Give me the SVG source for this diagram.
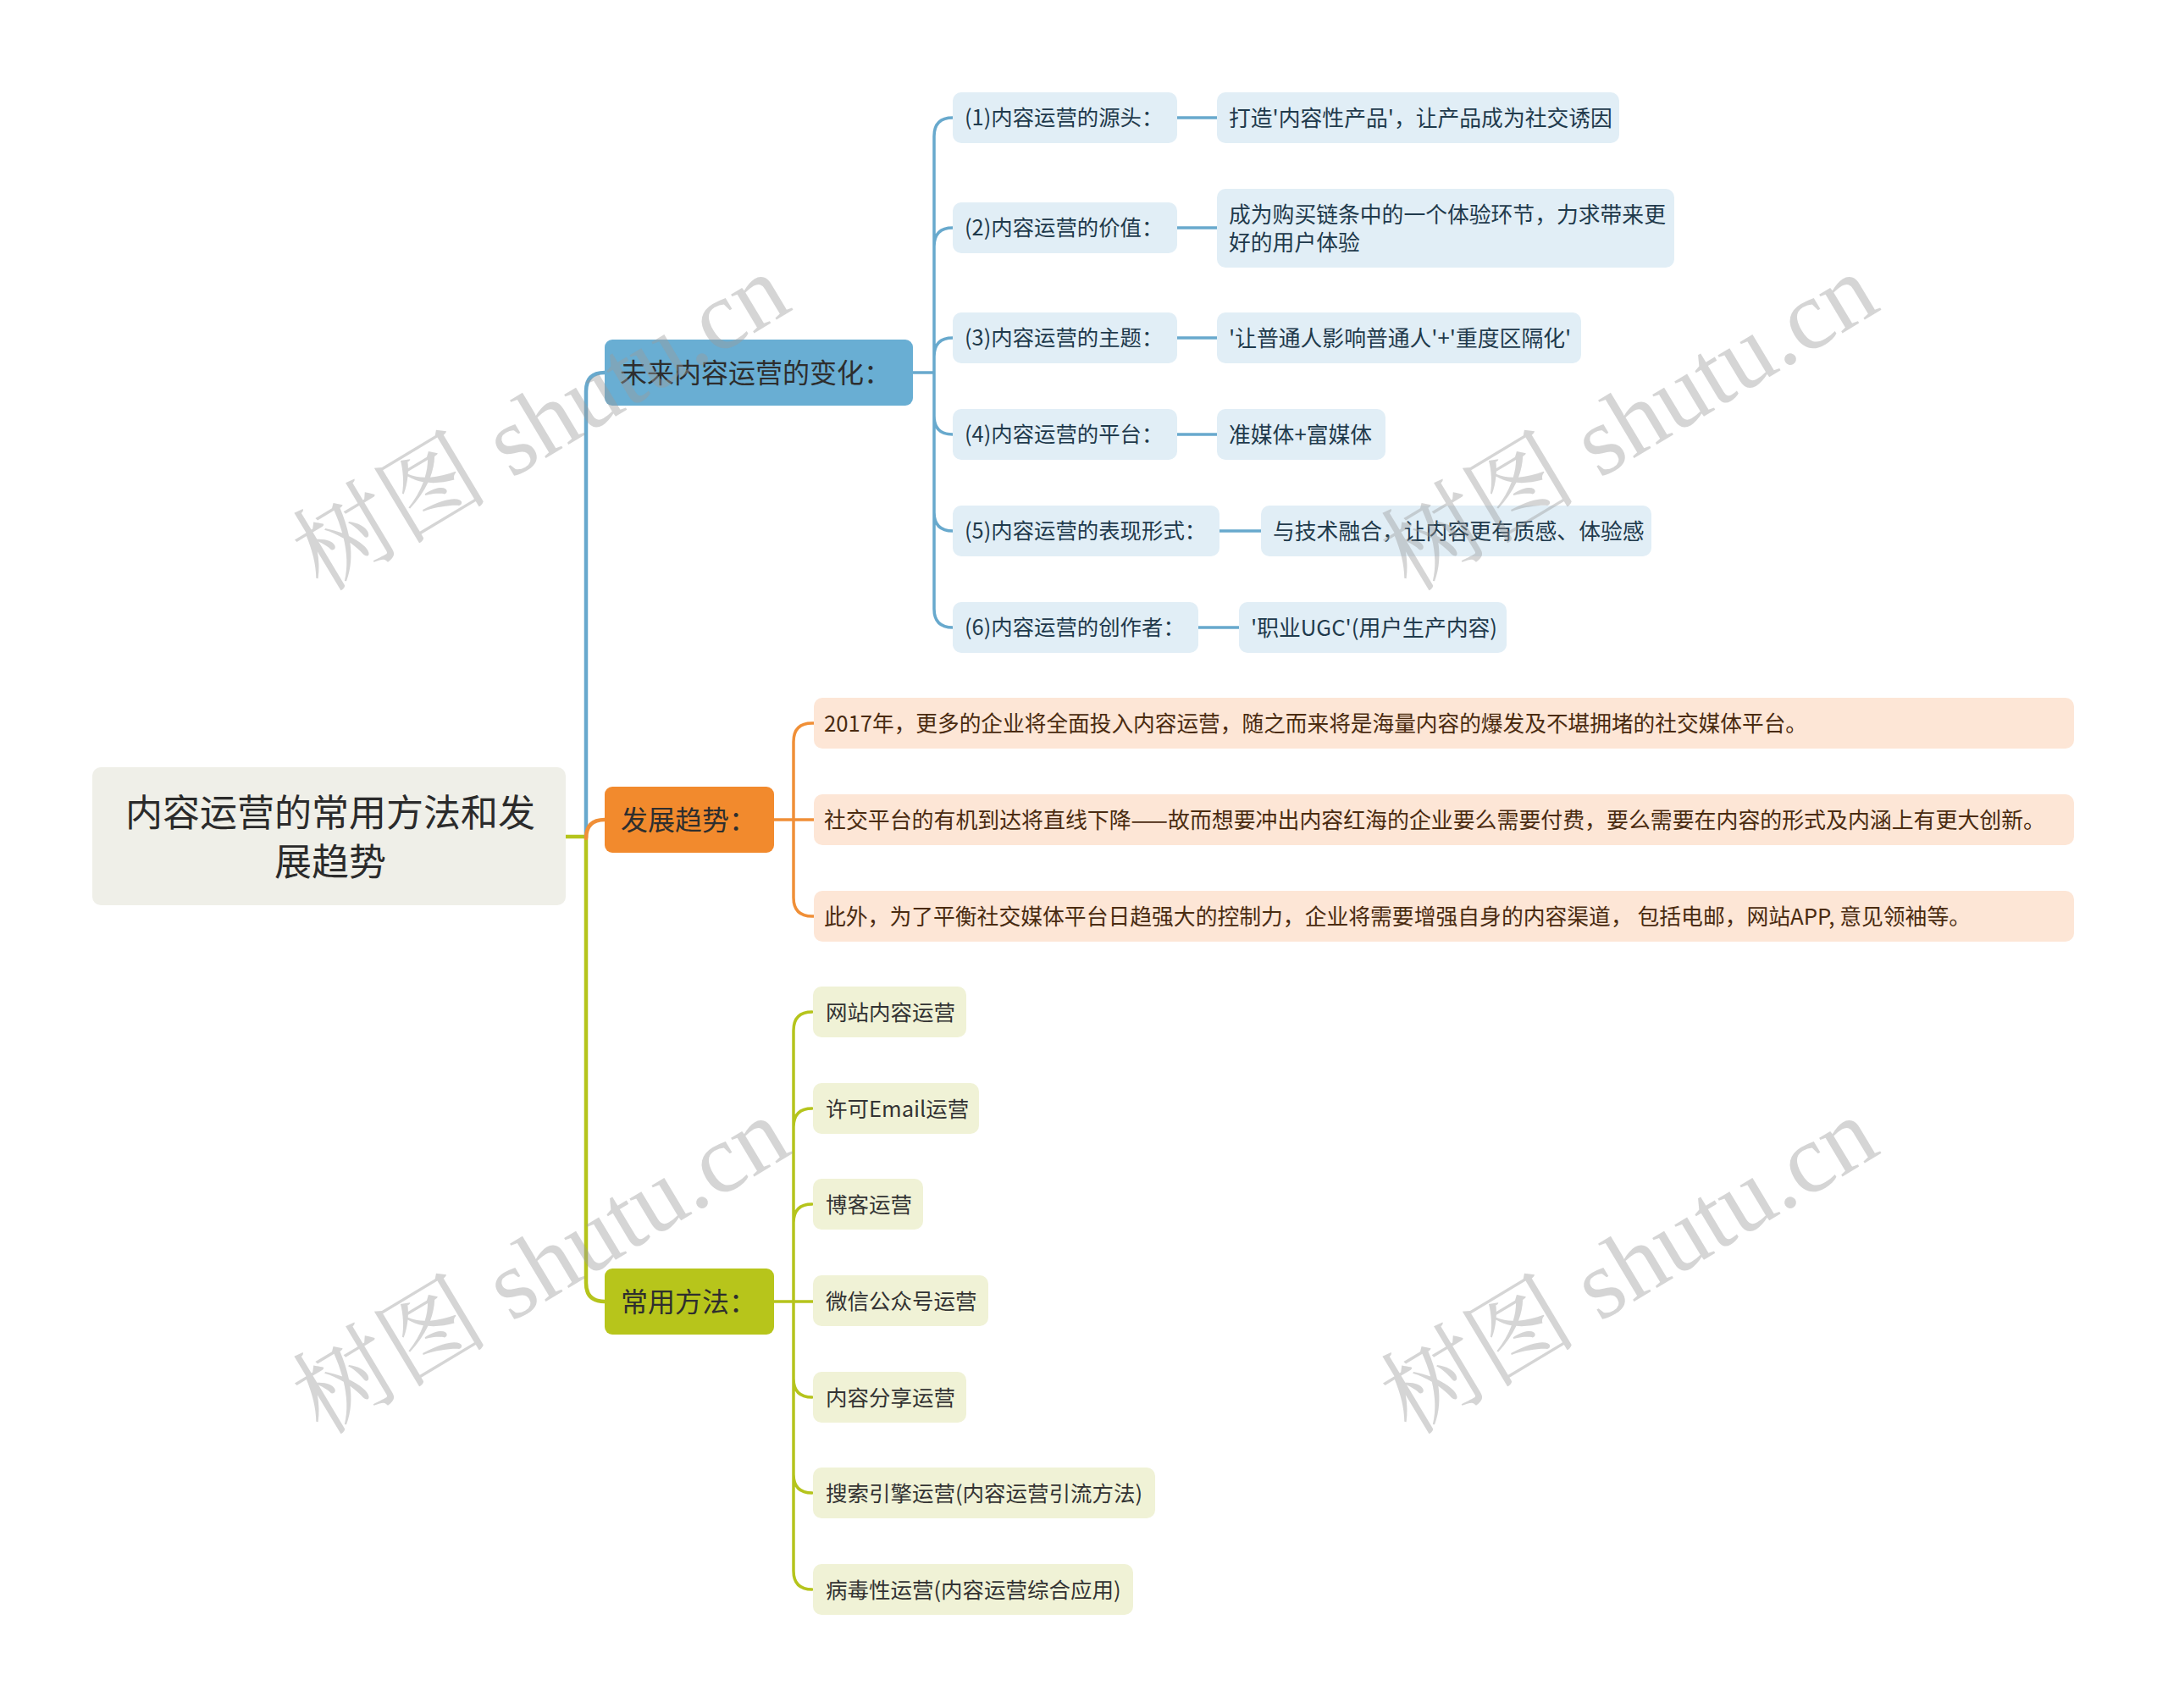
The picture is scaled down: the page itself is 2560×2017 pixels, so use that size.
<svg xmlns="http://www.w3.org/2000/svg" width="2560" height="2017" viewBox="0 0 2560 2017">
<style>
text{font-family:"Noto Sans CJK SC","Noto Sans",sans-serif;dominant-baseline:central}
.root rect{fill:#efefe8}
.root text{font-size:44px;fill:#2b2b2b;text-anchor:middle}
.br text{font-size:32px;fill:#2e2e2e}
.b1 rect{fill:#69aed3}
.b2 rect{fill:#f28a2d}
.b3 rect{fill:#b7c51b}
.lb rect{fill:#e1eef6}
.lb text{font-size:25.4px;fill:#1f3a4c}
.lb text.v{font-size:25.8px}
.lo rect{fill:#fde6d6}
.lo text{font-size:26px;fill:#4a2b10}
.lg rect{fill:#f0f2d6}
.lg text{font-size:25.5px;fill:#333}
.c{fill:none;stroke-linecap:round;stroke-linejoin:round}
.cb{stroke:#68a9cd}
.co{stroke:#f08f37}
.cg{stroke:#b5c41c}
.wm{font-family:"Liberation Serif","Noto Serif CJK SC",serif;font-size:116px;fill:#9a9a9a;fill-opacity:0.42;dominant-baseline:alphabetic}
</style>
<g id="connectors">
<path class="c cg" stroke-width="4.5" d="M668,988 H692 V1515 Q692,1537 714,1537"/>
<path class="c cb" stroke-width="4.5" d="M692,988 V462 Q692,440 714,440"/>
<path class="c co" stroke-width="4.5" d="M692,990 Q692,968 714,968"/>
<path class="c cb" stroke-width="3.5" d="M1078,440 H1103 M1103,440 V161 Q1103,139 1125,139 M1103,440 V291 Q1103,269 1125,269 M1103,440 V421 Q1103,399 1125,399 M1103,440 V491 Q1103,513 1125,513 M1103,440 V605 Q1103,627 1125,627 M1103,440 V719 Q1103,741 1125,741"/>
<path class="c cb" stroke-width="3.5" d="M1390,139 H1437 M1390,269 H1437 M1390,399 H1437 M1390,513 H1437 M1440,627 H1489 M1415,741 H1463"/>
<path class="c co" stroke-width="3.5" d="M913,968 H961 M937,968 V876 Q937,854 959,854 H961 M937,968 V1060 Q937,1082 959,1082 H961"/>
<path class="c cg" stroke-width="3.5" d="M914,1537 H960 M937,1537 V1217 Q937,1195 959,1195 M937,1537 V1331 Q937,1309 959,1309 M937,1537 V1444 Q937,1422 959,1422 M937,1537 V1628 Q937,1650 959,1650 M937,1537 V1741 Q937,1763 959,1763 M937,1537 V1855 Q937,1877 959,1877"/>
</g>
<g id="root" class="root">
<rect x="109" y="906" width="559" height="163" rx="10"/>
<text x="390" y="957">内容运营的常用方法和发</text>
<text x="390" y="1015">展趋势</text>
</g>
<g id="branch-future" class="br b1">
<rect x="714" y="401" width="364" height="78" rx="9"/>
<text x="732" y="438">未来内容运营的变化：</text>
</g>
<g id="branch-trend" class="br b2">
<rect x="714" y="929" width="200" height="78" rx="9"/>
<text x="733" y="966">发展趋势：</text>
</g>
<g id="branch-method" class="br b3">
<rect x="714" y="1498" width="200" height="78" rx="9"/>
<text x="733" y="1535">常用方法：</text>
</g>
<g id="f1" class="lb"><rect x="1125" y="109" width="265" height="60" rx="10"/><text x="1139" y="137">(1)内容运营的源头：</text></g>
<g id="f1a" class="lb"><rect x="1437" y="109" width="475" height="60" rx="10"/><text class="v" x="1451" y="137">打造'内容性产品'，让产品成为社交诱因</text></g>
<g id="f2" class="lb"><rect x="1125" y="239" width="265" height="60" rx="10"/><text x="1139" y="267">(2)内容运营的价值：</text></g>
<g id="f2a" class="lb"><rect x="1437" y="223" width="540" height="93" rx="10"/><text class="v" x="1451" y="251">成为购买链条中的一个体验环节，力求带来更</text><text class="v" x="1451" y="284">好的用户体验</text></g>
<g id="f3" class="lb"><rect x="1125" y="369" width="265" height="60" rx="10"/><text x="1139" y="397">(3)内容运营的主题：</text></g>
<g id="f3a" class="lb"><rect x="1437" y="369" width="430" height="60" rx="10"/><text class="v" x="1451" y="397">'让普通人影响普通人'+'重度区隔化'</text></g>
<g id="f4" class="lb"><rect x="1125" y="483" width="265" height="60" rx="10"/><text x="1139" y="511">(4)内容运营的平台：</text></g>
<g id="f4a" class="lb"><rect x="1437" y="483" width="199" height="60" rx="10"/><text class="v" x="1451" y="511">准媒体+富媒体</text></g>
<g id="f5" class="lb"><rect x="1125" y="597" width="315" height="60" rx="10"/><text x="1139" y="625">(5)内容运营的表现形式：</text></g>
<g id="f5a" class="lb"><rect x="1489" y="597" width="461" height="60" rx="10"/><text class="v" x="1503" y="625">与技术融合，让内容更有质感、体验感</text></g>
<g id="f6" class="lb"><rect x="1125" y="711" width="290" height="60" rx="10"/><text x="1139" y="739">(6)内容运营的创作者：</text></g>
<g id="f6a" class="lb"><rect x="1463" y="711" width="316" height="60" rx="10"/><text class="v" x="1477" y="739">'职业UGC'(用户生产内容)</text></g>
<g id="t1" class="lo"><rect x="961" y="824" width="1488" height="60" rx="10"/><text x="973" y="852" textLength="1161" lengthAdjust="spacingAndGlyphs">2017年，更多的企业将全面投入内容运营，随之而来将是海量内容的爆发及不堪拥堵的社交媒体平台。</text></g>
<g id="t2" class="lo"><rect x="961" y="938" width="1488" height="60" rx="10"/><text x="973" y="966" textLength="1442" lengthAdjust="spacingAndGlyphs">社交平台的有机到达将直线下降——故而想要冲出内容红海的企业要么需要付费，要么需要在内容的形式及内涵上有更大创新。</text></g>
<g id="t3" class="lo"><rect x="961" y="1052" width="1488" height="60" rx="10"/><text x="973" y="1080" textLength="1354" lengthAdjust="spacingAndGlyphs">此外，为了平衡社交媒体平台日趋强大的控制力，企业将需要增强自身的内容渠道， 包括电邮，网站APP, 意见领袖等。</text></g>
<g id="m1" class="lg"><rect x="960" y="1165" width="181" height="60" rx="10"/><text x="975" y="1193">网站内容运营</text></g>
<g id="m2" class="lg"><rect x="960" y="1279" width="196" height="60" rx="10"/><text x="975" y="1307">许可Email运营</text></g>
<g id="m3" class="lg"><rect x="960" y="1392" width="130" height="60" rx="10"/><text x="975" y="1420">博客运营</text></g>
<g id="m4" class="lg"><rect x="960" y="1506" width="207" height="60" rx="10"/><text x="975" y="1534">微信公众号运营</text></g>
<g id="m5" class="lg"><rect x="960" y="1620" width="181" height="60" rx="10"/><text x="975" y="1648">内容分享运营</text></g>
<g id="m6" class="lg"><rect x="960" y="1733" width="404" height="60" rx="10"/><text x="975" y="1761">搜索引擎运营(内容运营引流方法)</text></g>
<g id="m7" class="lg"><rect x="960" y="1847" width="378" height="60" rx="10"/><text x="975" y="1875">病毒性运营(内容运营综合应用)</text></g>
<g id="watermarks">
<text class="wm" transform="translate(380,700) rotate(-31)">树图 shutu.cn</text>
<text class="wm" transform="translate(1665,700) rotate(-31)">树图 shutu.cn</text>
<text class="wm" transform="translate(380,1696) rotate(-31)">树图 shutu.cn</text>
<text class="wm" transform="translate(1665,1696) rotate(-31)">树图 shutu.cn</text>
</g>
</svg>
